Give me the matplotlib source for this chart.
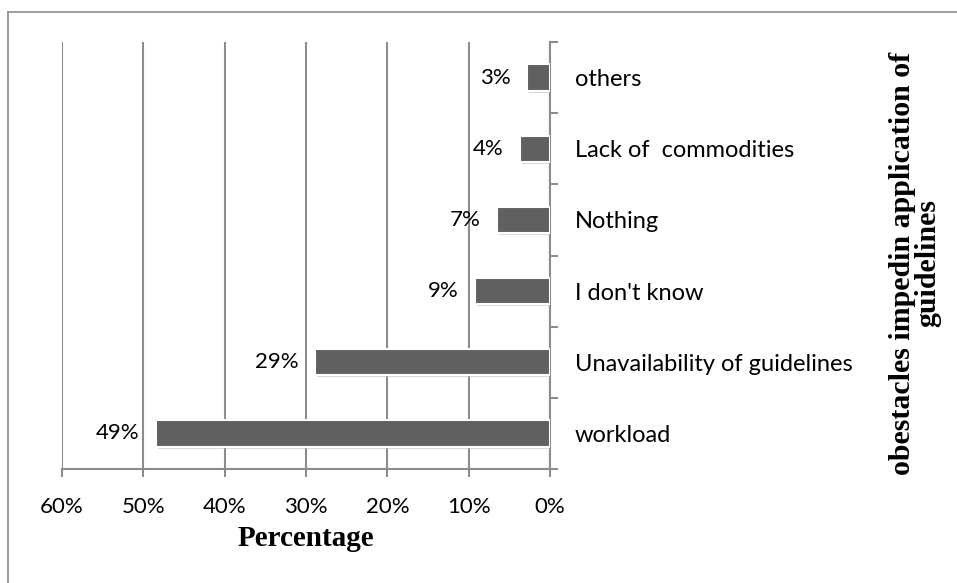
import matplotlib
matplotlib.use("Agg")
import matplotlib.pyplot as plt
import matplotlib.patheffects as pe
from matplotlib.lines import Line2D

categories = ["workload", "Unavailability of guidelines", "I don't know",
              "Nothing", "Lack of  commodities", "others"]
values = [48.5, 28.9, 9.2, 6.5, 3.7, 2.8]
labels = ["49%", "29%", "9%", "7%", "4%", "3%"]
xticks = [0, 10, 20, 30, 40, 50, 60]

plt.rcParams['font.family'] = ['Lato', 'DejaVu Sans']

fig = plt.figure(figsize=(9.57, 5.83), dpi=100)
ax = fig.add_axes([62/957, 1 - 469/583, (550 - 62)/957, (469 - 42)/583])

grid_c = '#8c8c8c'
ypos = list(range(len(categories)))
bars = ax.barh(ypos, values, height=0.37, color='#606060', edgecolor='white',
               linewidth=1.5, zorder=3)
for b in bars:
    b.set_path_effects([pe.SimplePatchShadow(offset=(1.5, -1.5), shadow_rgbFace='#b0b0b0', alpha=0.5),
                        pe.Normal()])

# value labels sit ~16px left of the bar end
for y, v, t in zip(ypos, values, labels):
    ax.text(v + 2.0, y, t, ha='right', va='center', fontsize=16, color='black')

ax.set_xlim(60, 0)
ax.set_ylim(-0.5, len(categories) - 0.5)
ax.set_xticks(xticks)
ax.set_xticklabels([f"{x}%" for x in xticks], fontsize=16)
ax.xaxis.grid(True, color=grid_c, linewidth=1.5, zorder=0)
ax.set_axisbelow(True)

ax.yaxis.tick_right()
ax.set_yticks(ypos)
ax.set_yticklabels(categories, fontsize=17)
ax.set_yticks([i + 0.5 for i in range(-1, len(categories))], minor=True)
ax.tick_params(axis='y', which='major', length=0, pad=18)
ax.tick_params(axis='y', which='minor', length=6, width=1.5, color=grid_c)
ax.tick_params(axis='x', length=6, width=1.5, color=grid_c, pad=14)

for s in ['top', 'left']:
    ax.spines[s].set_visible(False)
for s in ['bottom', 'right']:
    ax.spines[s].set_color(grid_c)
    ax.spines[s].set_linewidth(1.5)

ax.set_xlabel("Percentage", fontsize=21, fontweight='bold',
              family=['Liberation Serif', 'DejaVu Serif'], labelpad=6)

fig.text(915/957, 1 - 263/583, "obestacles impedin application of\nguidelines",
         rotation=90, ha='center', va='center', multialignment='center',
         fontsize=21.5, fontweight='bold', family=['Liberation Serif', 'DejaVu Serif'],
         linespacing=0.95)

# outer chart frame
fig.add_artist(Line2D([8/957, 8/957], [0, 1 - 12/583], transform=fig.transFigure,
                      color='#8c8c8c', linewidth=1.2))
fig.add_artist(Line2D([8/957, 1], [1 - 12/583, 1 - 12/583], transform=fig.transFigure,
                      color='#8c8c8c', linewidth=1.2))

fig.savefig("out.png", dpi=100)
